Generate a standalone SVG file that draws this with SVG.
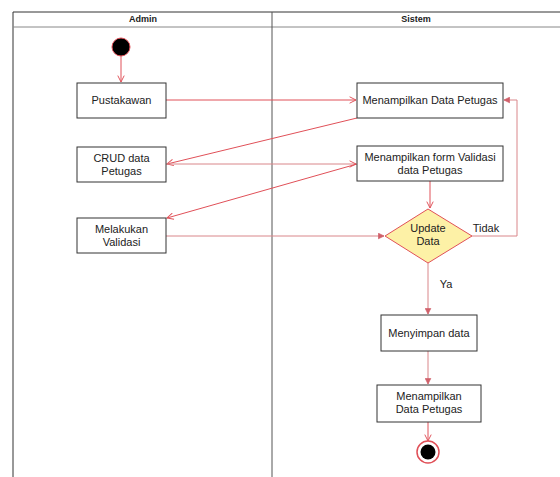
<svg xmlns="http://www.w3.org/2000/svg" width="560" height="477" viewBox="0 0 560 477">
<style>
.box{fill:#fff;stroke:#333;stroke-width:1}
.t{font-family:"Liberation Sans",Arial,sans-serif;font-size:11px;fill:#222;text-anchor:middle}
.h{font-family:"Liberation Sans",Arial,sans-serif;font-size:9px;font-weight:bold;fill:#222;text-anchor:middle}
.c{fill:none;stroke:#e05058;stroke-width:1}
.cl{fill:none;stroke:#d9868a;stroke-width:1}
</style>
<defs>
<marker id="a" viewBox="0 0 10 10" refX="9" refY="5" markerWidth="8" markerHeight="8" orient="auto" markerUnits="userSpaceOnUse">
<path d="M1,1 L9,5 L1,9" fill="none" stroke="#e05058" stroke-width="1.2"/>
</marker>
<marker id="f" viewBox="0 0 10 10" refX="9" refY="5" markerWidth="7" markerHeight="7" orient="auto" markerUnits="userSpaceOnUse">
<path d="M1,1 L9,5 L1,9 Z" fill="#d0606a" stroke="#d0606a"/>
</marker>
</defs>
<rect width="560" height="477" fill="#fff"/>
<g id="frame">
<path d="M13,477 V12 H560" fill="none" stroke="#333" stroke-width="1"/>
<line x1="13" y1="27" x2="560" y2="27" stroke="#888" stroke-width="1"/>
<line x1="272" y1="12" x2="272" y2="477" stroke="#555" stroke-width="1"/>
<text class="h" x="143" y="22">Admin</text>
<text class="h" x="416" y="22">Sistem</text>
</g>
<g id="connectors">
<line class="c" x1="121" y1="56" x2="121" y2="82" marker-end="url(#a)"/>
<line class="c" x1="166" y1="100" x2="356" y2="100" marker-end="url(#a)"/>
<line class="c" x1="357" y1="118" x2="167" y2="164" marker-end="url(#a)"/>
<line class="cl" x1="166" y1="164" x2="356" y2="164" marker-end="url(#a)"/>
<line class="c" x1="357" y1="164" x2="167" y2="218" marker-end="url(#a)"/>
<line class="cl" x1="166" y1="236" x2="384" y2="236" marker-end="url(#f)"/>
<line class="c" x1="430" y1="181" x2="430" y2="208" marker-end="url(#a)"/>
<polyline class="cl" points="472,236 517,236 517,100 504,100" marker-end="url(#f)"/>
<line class="cl" x1="428" y1="263" x2="428" y2="314" marker-end="url(#f)"/>
<line class="cl" x1="428" y1="351" x2="428" y2="384" marker-end="url(#f)"/>
<line class="c" x1="428" y1="422" x2="428" y2="441" marker-end="url(#a)"/>
<text class="t" x="486" y="232" font-size="11">Tidak</text>
<text class="t" x="446" y="288">Ya</text>
</g>
<g id="start"><circle cx="121" cy="47" r="9" fill="#000" stroke="#e05058" stroke-width="1"/></g>
<g id="pustakawan"><rect class="box" x="77" y="83" width="89" height="35"/><text class="t" x="121.5" y="104">Pustakawan</text></g>
<g id="crud"><rect class="box" x="77" y="147" width="89" height="35"/><text class="t" x="121.5" y="162">CRUD data</text><text class="t" x="121.5" y="175">Petugas</text></g>
<g id="validasi"><rect class="box" x="77" y="218" width="89" height="35"/><text class="t" x="121.5" y="233">Melakukan</text><text class="t" x="121.5" y="246">Validasi</text></g>
<g id="tampil1"><rect class="box" x="357" y="83" width="146" height="35"/><text class="t" x="430" y="104">Menampilkan Data Petugas</text></g>
<g id="form"><rect class="box" x="357" y="146" width="146" height="35"/><text class="t" x="430" y="161">Menampilkan form Validasi</text><text class="t" x="430" y="174">data Petugas</text></g>
<g id="decision"><polygon points="428,209 472,236 428,263 385,236" fill="#fdf1a6" stroke="#e05058" stroke-width="1"/><text class="t" x="428" y="232">Update</text><text class="t" x="428" y="245">Data</text></g>
<g id="simpan"><rect class="box" x="381" y="315" width="96" height="36"/><text class="t" x="429" y="337">Menyimpan data</text></g>
<g id="tampil2"><rect class="box" x="377" y="385" width="104" height="37"/><text class="t" x="429" y="400">Menampilkan</text><text class="t" x="429" y="413">Data Petugas</text></g>
<g id="end"><circle cx="428" cy="452" r="11" fill="#fff" stroke="#e05058" stroke-width="1.5"/><circle cx="428" cy="452" r="7.5" fill="#000"/></g>
</svg>
